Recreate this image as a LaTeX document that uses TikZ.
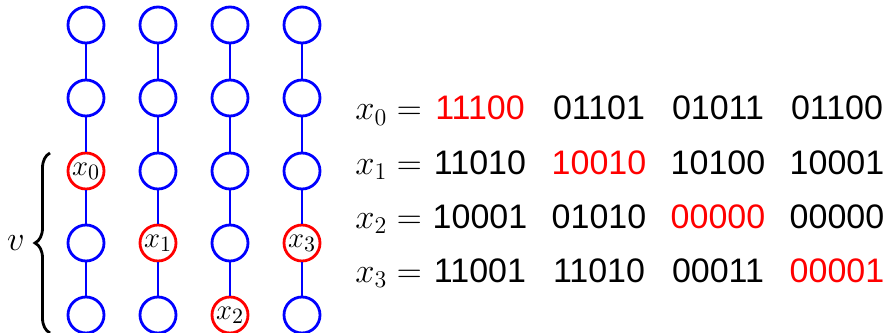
\documentclass[tikz,border=0pt]{standalone}
\usepackage{fontspec}
\setsansfont{Liberation Sans}
\usetikzlibrary{decorations.pathreplacing}

\tikzset{
  vtx/.style={circle,draw=blue,line width=1.4pt,minimum size=18pt,inner sep=0pt,
    font=\fontsize{15}{17}\selectfont},
  hit/.style={vtx,draw=red},
  link/.style={blue,line width=1.4pt},
  bits/.style={anchor=base,inner sep=0pt,font=\fontsize{17}{20}\selectfont\sffamily},
  lbl/.style={anchor=base west,inner sep=0pt,font=\fontsize{18}{21}\selectfont},
}

\begin{document}
\begin{tikzpicture}[x=0.5pt,y=0.5pt]
    \useasboundingbox (0,0) rectangle (886,332);

    % columns of vertices, one red per column
    \foreach \c/\x/\h in {0/86/2,1/158/3,2/230/4,3/302/3}
      \foreach \r/\y in {0/307,1/234,2/161,3/89,4/17}{
        \ifnum\r=\h
          \node[hit] (c\c\r) at (\x,\y) {$x_\c$};
        \else
          \node[vtx] (c\c\r) at (\x,\y) {};
        \fi
      }
    \foreach \c in {0,...,3}
      \foreach \r/\s in {0/1,1/2,2/3,3/4}
        \draw[link] (c\c\r) -- (c\c\s);

    % brace
    \coordinate (bb) at (50,-1);
    \coordinate (bt) at (50,179);
    \draw[decorate,decoration={brace,amplitude=7.5pt},line width=1.4pt] (bb) -- (bt);
    \node[font=\fontsize{16}{18}\selectfont] (v) at (16,89) {$v$};

    % bit strings
    \foreach \i/\y/\ga/\gb/\gc/\gd in {0/212/11100/01101/01011/01100,
        1/158/11010/10010/10100/10001,
        2/104/10001/01010/00000/00000,
        3/50/11001/11010/00011/00001}{
      \node[lbl] (x\i) at (355,\y) {$x_\i =$};
      \foreach \g [count=\k from 0] in {\ga,\gb,\gc,\gd}{
        \ifnum\k=\i \def\clr{red}\else\def\clr{black}\fi
        \node[bits,text=\clr] (b\i\k) at (480+119*\k,\y) {\g};
      }
    }
\end{tikzpicture}
\end{document}
